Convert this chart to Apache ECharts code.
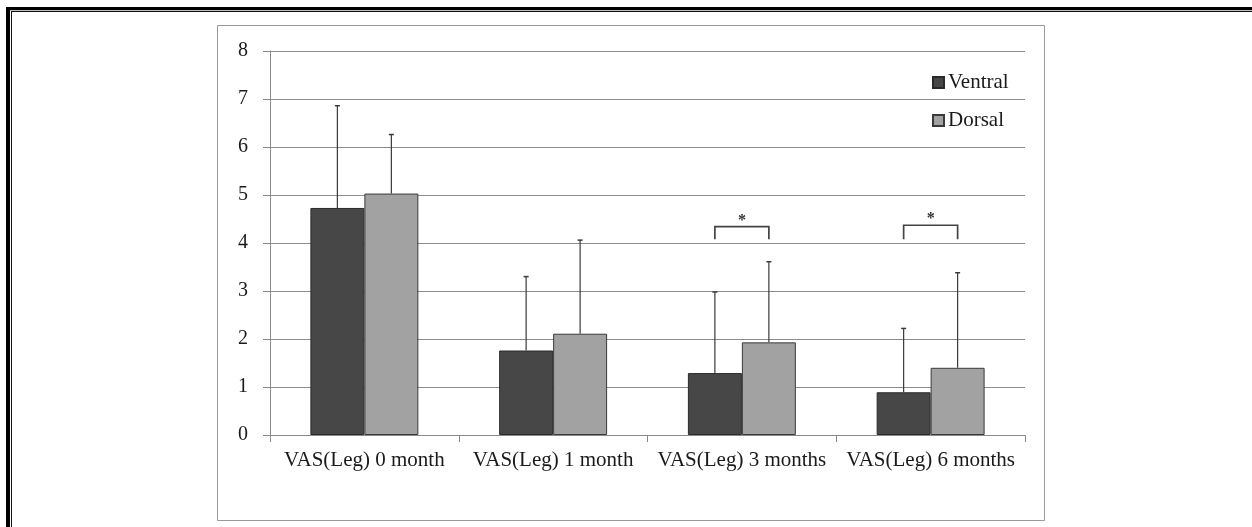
<!DOCTYPE html>
<html>
<head>
<meta charset="utf-8">
<script src="https://cdn.jsdelivr.net/npm/echarts@6/dist/echarts.min.js"></script>
<style>
html,body{margin:0;padding:0;background:#fff;}
#chart{width:1252px;height:527px;}
</style>
</head>
<body>
<div id="chart"></div>
<script>
const categories = ['VAS(Leg) 0 month', 'VAS(Leg) 1 month', 'VAS(Leg) 3 months', 'VAS(Leg) 6 months'];
const ventral = [4.73, 1.76, 1.29, 0.89];
const dorsal = [5.03, 2.11, 1.93, 1.40];
const ventralSD = [2.13, 1.54, 1.69, 1.33];
const dorsalSD = [1.23, 1.95, 1.68, 1.98];
const sigCats = [2, 3];
const sigLow = [4.08, 4.08];
const sigHigh = [4.34, 4.37];
const yTicks = [0, 1, 2, 3, 4, 5, 6, 7, 8];

const FONT = 'Liberation Serif';
const CAT_GAP = 0.428;

const chart = echarts.init(document.getElementById('chart'), null, {renderer: 'canvas'});

function errData(means, sds, sign) {
  return means.map((m, i) => [i, m, m + sds[i], sign]);
}

function renderErr(params, api) {
  const idx = api.value(0);
  const catW = api.size([1, 0])[0];
  const barW = catW * (1 - CAT_GAP) / 2;
  const sign = api.value(3);
  const x = api.coord([idx, 0])[0] + sign * barW / 2;
  const y1 = api.coord([idx, api.value(1)])[1];
  const y2 = api.coord([idx, api.value(2)])[1];
  const st = {stroke: '#3a3a3a', lineWidth: 1.2};
  return {
    type: 'group',
    children: [
      {type: 'line', shape: {x1: x, y1: y1, x2: x, y2: y2}, style: st},
      {type: 'line', shape: {x1: x - 2.5, y1: y2, x2: x + 2.5, y2: y2}, style: {stroke: '#3a3a3a', lineWidth: 1.5}}
    ]
  };
}

function renderSig(params, api) {
  const idx = api.value(0);
  const catW = api.size([1, 0])[0];
  const barW = catW * (1 - CAT_GAP) / 2;
  const cx = api.coord([idx, 0])[0];
  const xl = cx - barW / 2;
  const xr = cx + barW / 2;
  const yl = api.coord([idx, api.value(1)])[1];
  const yh = api.coord([idx, api.value(2)])[1];
  return {
    type: 'group',
    children: [
      {type: 'polyline', shape: {points: [[xl, yl], [xl, yh], [xr, yh], [xr, yl]]}, style: {stroke: '#444', lineWidth: 1.7, fill: null}},
      {type: 'text', x: cx, y: yh - 6, style: {text: '*', font: 'bold 16px "' + FONT + '"', fill: '#333', align: 'center', verticalAlign: 'middle'}}
    ]
  };
}

const option = {
  backgroundColor: '#ffffff',
  animation: false,
  graphic: [
    {type: 'rect', shape: {x: 6, y: 7, width: 1246, height: 3.3}, style: {fill: '#000'}},
    {type: 'rect', shape: {x: 6, y: 7, width: 4, height: 520}, style: {fill: '#000'}},
    {type: 'rect', shape: {x: 11, y: 11, width: 1241, height: 1}, style: {fill: '#111'}},
    {type: 'rect', shape: {x: 11, y: 11, width: 1, height: 516}, style: {fill: '#111'}},
    {type: 'rect', shape: {x: 217.5, y: 25.5, width: 827, height: 495}, style: {fill: 'none', stroke: '#9a9a9a', lineWidth: 1}}
  ],
  grid: {left: 270, right: 227, top: 51, bottom: 92, containLabel: false},
  legend: {
    orient: 'vertical',
    left: 927,
    top: 67,
    itemWidth: 11,
    itemHeight: 11,
    itemGap: 17,
    icon: 'rect',
    data: ['Ventral', 'Dorsal'],
    textStyle: {fontFamily: FONT, fontSize: 21, color: '#1a1a1a', padding: [0, 0, 0, -1]}
  },
  xAxis: {
    type: 'category',
    data: categories,
    axisLine: {lineStyle: {color: '#8a8a8a', width: 1}},
    axisTick: {show: true, length: 7, lineStyle: {color: '#8a8a8a'}},
    axisLabel: {interval: 0, fontFamily: FONT, fontSize: 21, color: '#1a1a1a', margin: 15}
  },
  yAxis: {
    type: 'value',
    min: 0,
    max: 8,
    interval: 1,
    axisLine: {show: true, lineStyle: {color: '#8a8a8a', width: 1}},
    axisTick: {show: true, length: 7, lineStyle: {color: '#8a8a8a'}},
    axisLabel: {fontFamily: FONT, fontSize: 20, color: '#1a1a1a', margin: 22,
      formatter: v => yTicks.includes(v) ? String(v) : ''},
    splitLine: {show: true, lineStyle: {color: '#8c8c8c', width: 1.2}}
  },
  series: [
    {
      name: 'Ventral', type: 'bar', data: ventral,
      barGap: '0%', barCategoryGap: (CAT_GAP * 100) + '%',
      itemStyle: {color: '#474747', borderColor: '#2a2a2a', borderWidth: 1}
    },
    {
      name: 'Dorsal', type: 'bar', data: dorsal,
      barGap: '0%', barCategoryGap: (CAT_GAP * 100) + '%',
      itemStyle: {color: '#a2a2a2', borderColor: '#3a3a3a', borderWidth: 1}
    },
    {
      type: 'custom', renderItem: renderErr, data: errData(ventral, ventralSD, -1),
      encode: {x: 0, y: [1, 2]}, z: 5, silent: true
    },
    {
      type: 'custom', renderItem: renderErr, data: errData(dorsal, dorsalSD, 1),
      encode: {x: 0, y: [1, 2]}, z: 5, silent: true
    },
    {
      type: 'custom', renderItem: renderSig,
      data: sigCats.map((c, i) => [c, sigLow[i], sigHigh[i]]),
      encode: {x: 0, y: [1, 2]}, z: 5, silent: true
    }
  ]
};
chart.setOption(option);
</script>
</body>
</html>
